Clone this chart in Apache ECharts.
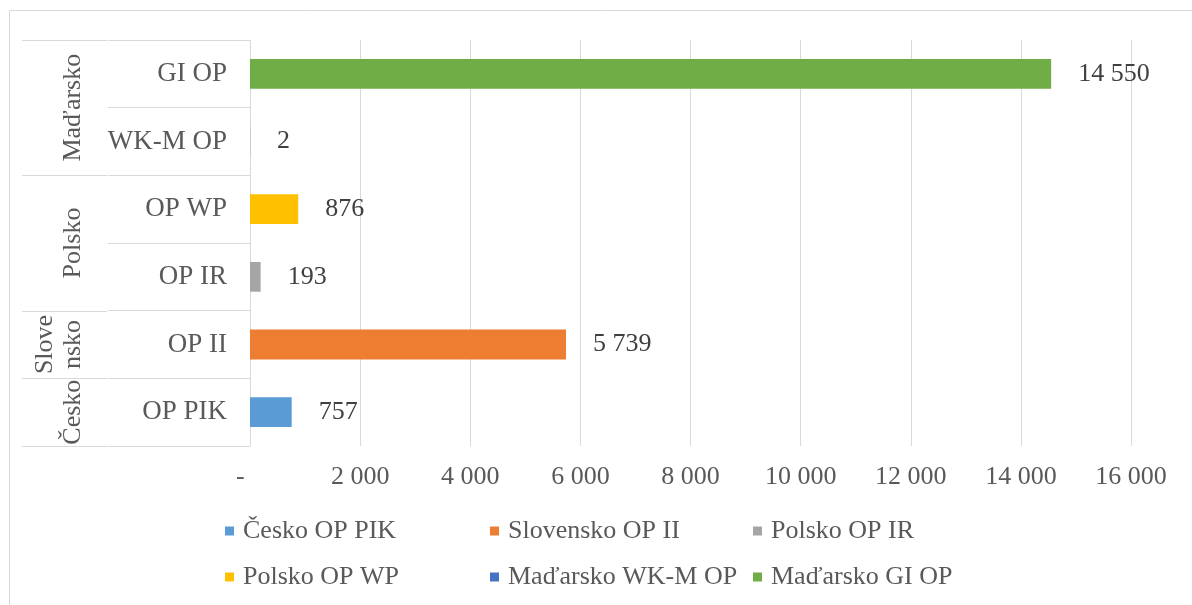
<!DOCTYPE html>
<html>
<head>
<meta charset="utf-8">
<script src="https://cdn.jsdelivr.net/npm/echarts@6/dist/echarts.min.js"></script>
<style>
  html, body { margin: 0; padding: 0; background: #fff; }
  #chart { width: 1192px; height: 605px; }
</style>
</head>
<body>
<div id="chart"></div>
<script>
// categories bottom to top, as the axis draws them
const categories = ['OP PIK', 'OP II', 'OP IR', 'OP WP', 'WK-M OP', 'GI OP'];
const groupNames = ['Česko', 'Slovensko', 'Polsko', 'Maďarsko'];
const groupSizes = [1, 1, 2, 2];
const values = [757, 5739, 193, 876, 2, 14550];
const colors = ['#5B9BD5', '#ED7D31', '#A5A5A5', '#FFC000', '#4472C4', '#70AD47'];
const xTicks = [0, 2000, 4000, 6000, 8000, 10000, 12000, 14000, 16000];

const FONT = "'Liberation Serif', 'Times New Roman', serif";

function fmt(v) {
  if (v === 0) return '-   ';
  return String(v).replace(/\B(?=(\d{3})+(?!\d))/g, ' ');
}

// break a group name by characters when it is longer than its band
const measureCtx = document.createElement('canvas').getContext('2d');
measureCtx.font = '26px ' + FONT;
function wrap(text, maxW) {
  const lines = [];
  let cur = '';
  for (const ch of text) {
    if (cur && measureCtx.measureText(cur + ch).width > maxW) {
      lines.push(cur);
      cur = ch;
    } else {
      cur += ch;
    }
  }
  lines.push(cur);
  return lines.join('\n');
}

// group name for each category
const catGroup = [];
groupNames.forEach((g, i) => {
  for (let k = 0; k < groupSizes[i]; k++) catGroup.push(g);
});
const seriesNames = categories.map((c, i) => catGroup[i] + ' ' + c);

const series = categories.map((c, i) => ({
  name: seriesNames[i],
  type: 'bar',
  stack: 'one',
  barWidth: '44%',
  itemStyle: { color: colors[i] },
  label: {
    show: true,
    position: 'right',
    distance: 27,
    color: '#404040',
    fontSize: 26,
    fontFamily: FONT,
    formatter: p => fmt(p.value)
  },
  data: categories.map((_, j) => (j === i ? values[i] : '-'))
}));

const legendCols = [[0, 3], [1, 4], [2, 5]];
const legendLeft = [225, 490, 753];

const chart = echarts.init(document.getElementById('chart'));

const option = {
  animation: false,
  grid: { left: 250, right: 61, top: 40, bottom: 159 },
  xAxis: {
    type: 'value',
    min: xTicks[0],
    max: xTicks[xTicks.length - 1],
    interval: 2000,
    axisLine: { show: false },
    axisTick: { show: false },
    splitLine: { lineStyle: { color: '#d9d9d9', width: 1 } },
    axisLabel: {
      margin: 18,
      color: '#595959',
      fontSize: 26,
      fontFamily: FONT,
      formatter: v => fmt(v)
    }
  },
  yAxis: {
    type: 'category',
    data: categories,
    axisLine: { show: true, lineStyle: { color: '#d9d9d9', width: 1 } },
    axisTick: { show: true, interval: 0, length: 142, lineStyle: { color: '#d9d9d9', width: 1 } },
    axisLabel: {
      margin: 23,
      interval: 0,
      color: '#595959',
      fontSize: 27,
      fontFamily: FONT
    }
  },
  legend: legendCols.map((col, k) => ({
    orient: 'vertical',
    left: legendLeft[k],
    top: 518,
    padding: 0,
    itemGap: 20,
    itemWidth: 9,
    itemHeight: 9,
    icon: 'rect',
    selectedMode: false,
    data: col.map(i => seriesNames[i]),
    textStyle: {
      color: '#595959',
      fontSize: 26,
      lineHeight: 26,
      fontFamily: FONT,
      padding: [0, 0, 0, 4]
    }
  })),
  series: series
};

chart.setOption(option);

// multi-level category axis: group separators and rotated group names
const centers = categories.map(c => chart.convertToPixel({ yAxisIndex: 0 }, c));
const band = Math.abs(centers[0] - centers[1]);
const xOuter = 22, xInner = 107;
const graphics = [{
  type: 'rect',
  shape: { x: 9.5, y: 10.5, width: 1300, height: 700 },
  style: { fill: 'none', stroke: '#d9d9d9', lineWidth: 1 },
  silent: true
}];
let start = 0;
groupNames.forEach((g, i) => {
  const end = start + groupSizes[i] - 1;
  const yBottom = centers[start] + band / 2;
  const yTop = centers[end] - band / 2;
  graphics.push({
    type: 'line',
    shape: { x1: xOuter, y1: Math.round(yBottom) + 0.5, x2: xInner, y2: Math.round(yBottom) + 0.5 },
    style: { stroke: '#d9d9d9', lineWidth: 1 },
    silent: true
  });
  if (i === groupNames.length - 1) {
    graphics.push({
      type: 'line',
      shape: { x1: xOuter, y1: Math.round(yTop) + 0.5, x2: xInner, y2: Math.round(yTop) + 0.5 },
      style: { stroke: '#d9d9d9', lineWidth: 1 },
      silent: true
    });
  }
  graphics.push({
    type: 'text',
    x: 87,
    y: (yBottom + yTop) / 2,
    rotation: Math.PI / 2,
    silent: true,
    style: {
      text: wrap(g, Math.abs(yBottom - yTop)),
      align: 'center',
      verticalAlign: 'bottom',
      fill: '#595959',
      fontSize: 26,
      fontFamily: FONT,
      lineHeight: 28
    }
  });
  start = end + 1;
});
chart.setOption({ graphic: graphics });
</script>
</body>
</html>
